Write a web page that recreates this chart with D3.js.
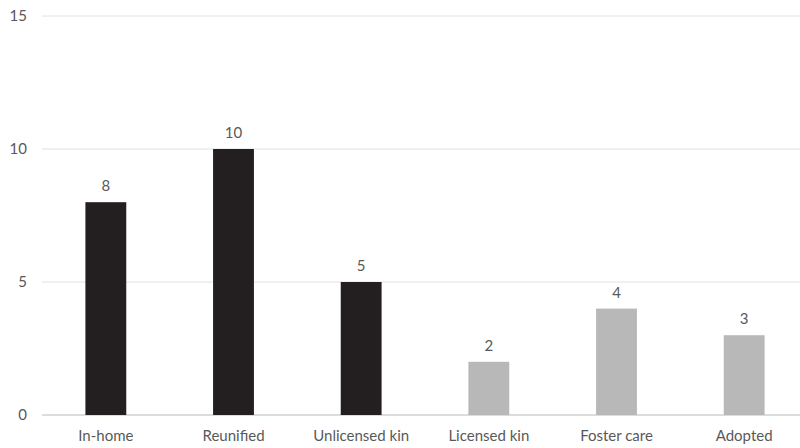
<!DOCTYPE html>
<html><head><meta charset="utf-8">
<script src="https://cdn.jsdelivr.net/npm/d3@7"></script>
<style>body{margin:0;background:#fff}svg{display:block}</style>
</head><body>
<svg id="c" width="800" height="448"></svg>
<script>
const categories = ["In-home","Reunified","Unlicensed kin","Licensed kin","Foster care","Adopted"];
const values = [8,10,5,2,4,3];
const groups = ["dark","dark","dark","light","light","light"];
const yTicks = [0,5,10,15];
const colors = {dark:"#231f20", light:"#b8b8b8"};

const svg = d3.select("#c");
const font = "Lato, 'Open Sans', sans-serif";
const x = d3.scaleBand().domain(categories).range([42,808]).paddingInner(0.68).paddingOuter(0.34);
const y = d3.scaleLinear().domain([0,15]).range([415,16]);

const grid = svg.append("g");
grid.selectAll("line").data(yTicks).join("line")
  .attr("x1",42).attr("x2",800)
  .attr("y1",d=>y(d)).attr("y2",d=>y(d))
  .attr("stroke",d=>d===0?"#d0d0d0":"#e0e0e0").attr("stroke-width",d=>d===0?1.5:1);

const yAxis = svg.append("g").attr("transform","translate(27,0)")
  .call(d3.axisLeft(y).tickValues(yTicks).tickSize(0).tickPadding(0));
yAxis.select(".domain").remove();
yAxis.selectAll("text").attr("font-family",font).attr("font-size",15).attr("fill","#595959");

const xAxis = svg.append("g").attr("transform","translate(0,415)")
  .call(d3.axisBottom(x).tickSize(0).tickPadding(15));
xAxis.select(".domain").remove();
xAxis.selectAll("text").attr("font-family",font).attr("font-size",15).attr("fill","#595959");

svg.append("g").selectAll("rect").data(values).join("rect")
  .attr("x",(d,i)=>x(categories[i])).attr("width",x.bandwidth())
  .attr("y",d=>y(d)).attr("height",d=>y(0)-y(d))
  .attr("fill",(d,i)=>colors[groups[i]]);

svg.append("g").selectAll("text").data(values).join("text")
  .attr("x",(d,i)=>x(categories[i])+x.bandwidth()/2)
  .attr("y",d=>y(d)-11)
  .attr("text-anchor","middle")
  .attr("font-family",font).attr("font-size",15).attr("fill","#595959")
  .text(d=>d);
</script>
</body></html>
